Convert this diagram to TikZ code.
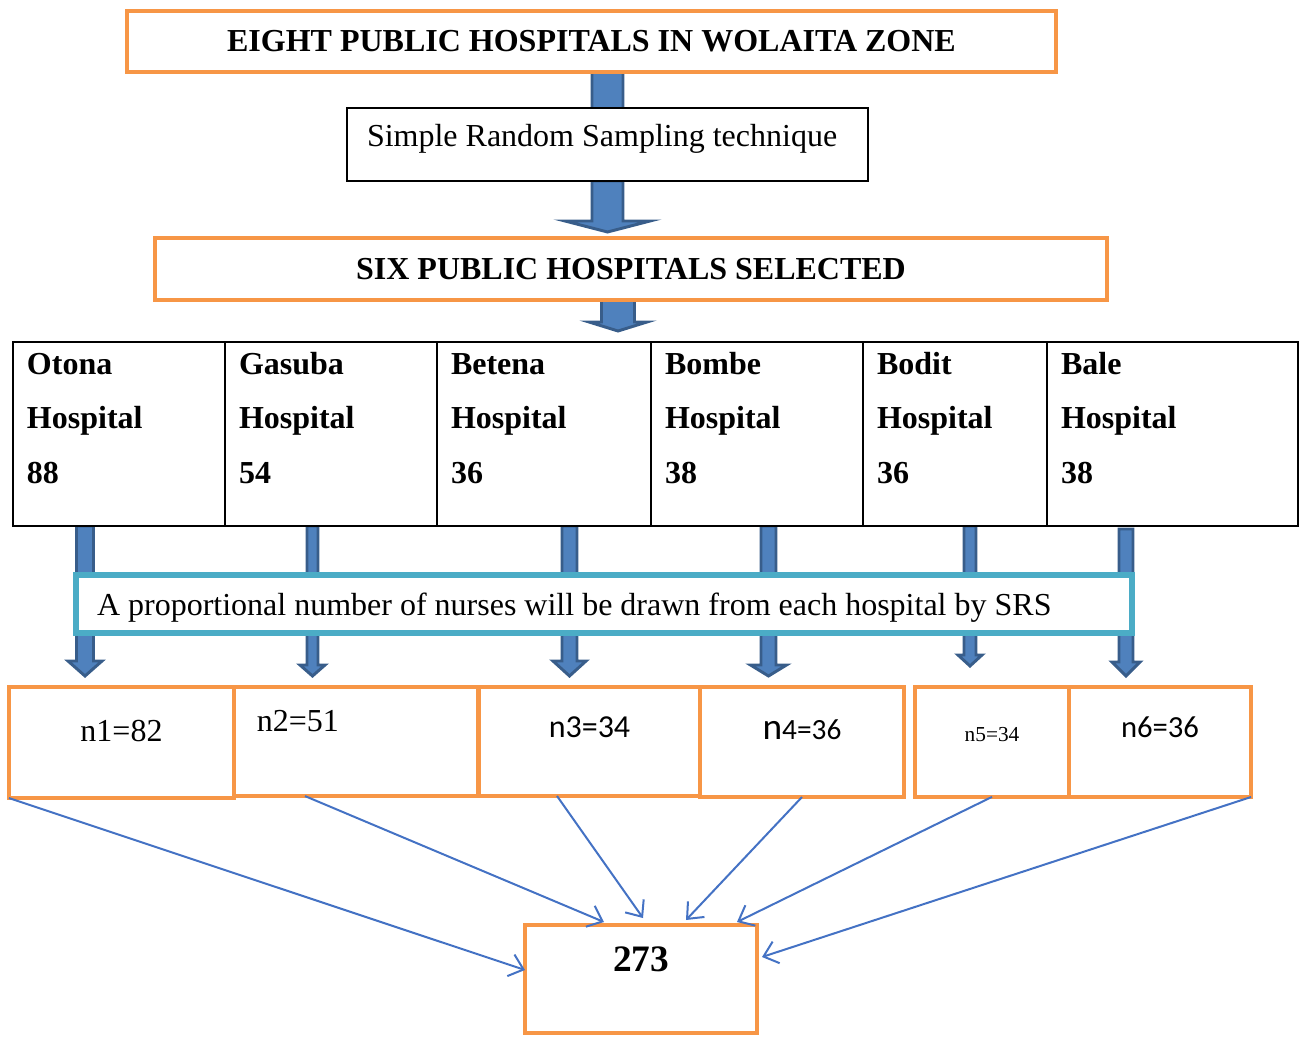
\documentclass[tikz,border=0pt]{standalone}
\usepackage{fontspec}
\setmainfont{Liberation Serif}
\newfontfamily\carlito{Carlito}
\usetikzlibrary{calc,arrows.meta}
\definecolor{box_orange}{RGB}{247, 150, 70}
\definecolor{box_cyan}{RGB}{75, 172, 198}
\definecolor{arr_fill}{RGB}{79, 129, 189}
\definecolor{arr_line}{RGB}{56, 93, 138}
\definecolor{thin_blue}{RGB}{68, 114, 196}
\tikzstyle{ob}=[rectangle,draw=box_orange,fill=white,line width=1.5pt,
  inner sep=0pt,outer sep=0pt,anchor=north]
\tikzstyle{bb}=[rectangle,draw=black,fill=white,line width=0.75pt,
  inner sep=0pt,outer sep=0pt,anchor=north west,align=flush left]
\tikzstyle{cb}=[rectangle,draw=box_cyan,fill=white,line width=2.25pt,
  inner xsep=7.875pt,inner ysep=0pt,outer sep=0pt,anchor=north west,align=flush left]
\tikzstyle{hc}=[rectangle,draw=black,fill=white,line width=0.8pt,
  inner xsep=5.25pt,inner ysep=0pt,outer sep=0pt,anchor=north west,align=flush left,
  text height=12pt,text depth=57pt,font=\bfseries\fontsize{12}{20.6}\selectfont]
\tikzstyle{bl}=[fill=arr_fill,draw=arr_line,line width=1.1pt]
\tikzstyle{ta}=[draw=thin_blue,line width=0.75pt,
  -{Straight Barb[length=5pt,width=8.5pt]}]
\tikzstyle{none}=[]
% x, y top, y tip, shaft half width, head half width, head length
\newcommand{\blockarrow}[6]{\filldraw[style=bl] (#1-#4,#2) -- (#1+#4,#2)
  -- (#1+#4,#3-#6) -- (#1+#5,#3-#6) -- (#1,#3) -- (#1-#5,#3-#6)
  -- (#1-#4,#3-#6) -- cycle;}

\begin{document}
\fontsize{12}{14.4}\selectfont
\begin{tikzpicture}[x=0.375pt, y=-0.375pt]
    \useasboundingbox (0, 0) rectangle (1301, 1036);
            % block arrows, under the boxes
            \blockarrow{607.5}{72}{125}{15.5}{42.5}{11}
            \blockarrow{607.5}{181}{232}{15.5}{42.5}{11}
            \blockarrow{618}{300}{331}{16.5}{29}{9}
            \blockarrow{85}{526}{676}{8.5}{17}{15}
            \blockarrow{312.5}{526}{676}{5.5}{12.5}{11}
            \blockarrow{569.5}{526}{676}{7.5}{16.5}{15}
            \blockarrow{768.5}{526}{676}{7.5}{18}{11}
            \blockarrow{970}{526}{666}{6}{12}{11}
            \blockarrow{1126}{529}{676}{7}{14}{14}
            % boxes
            \node [style=ob, minimum width=348.4pt, text height=15pt, text depth=7.9pt,
                font=\bfseries] (0) at (591.5, 11) {EIGHT PUBLIC HOSPITALS IN WOLAITA ZONE};
            \node [style=bb, inner xsep=7.5pt, text width=180.4pt, text height=14.6pt,
                text depth=12.75pt] (1) at (347, 108) {Simple Random Sampling technique};
            \node [style=ob, minimum width=357pt, text height=15.4pt, text depth=7.9pt,
                font=\bfseries] (2) at (631, 238) {SIX PUBLIC HOSPITALS SELECTED};
            \node [style=hc, text width=69pt] (3) at (13, 342) {Otona\\Hospital\\88};
            \node [style=hc, text width=69pt] (4) at (225, 342) {Gasuba\\Hospital\\54};
            \node [style=hc, text width=69.75pt] (5) at (437, 342) {Betena\\Hospital\\36};
            \node [style=hc, text width=69pt] (6) at (651, 342) {Bombe\\Hospital\\38};
            \node [style=hc, text width=58.5pt] (7) at (863, 342) {Bodit\\Hospital\\36};
            \node [style=hc, text width=83.6pt] (8) at (1047, 342) {Bale\\Hospital\\38};
            \node [style=cb, text width=380.25pt, text height=15pt, text depth=6.75pt]
                (9) at (76, 575) {A proportional number of nurses will be drawn from each hospital by SRS};
            \node [style=ob, minimum width=84.4pt, text height=20.25pt, text depth=21.4pt]
                (10) at (121.5, 687) {n1=82};
            \node [style=ob, anchor=north west, inner xsep=8.6pt, text width=74.3pt,
                align=flush left, text height=16.5pt, text depth=24.4pt] (11) at (234, 687) {n2=51};
            \node [style=ob, minimum width=82.9pt, text height=19.1pt, text depth=21.75pt,
                font=\carlito] (12) at (589.5, 687) {n3=34};
            \node [style=ob, minimum width=76.5pt, text height=19.5pt, text depth=21.75pt,
                font=\carlito] (13) at (802, 687) {{\fontsize{14}{16}\selectfont n}{\fontsize{11}{13}\selectfont 4=36}};
            \node [style=ob, minimum width=57.75pt, text height=20.6pt, text depth=20.6pt,
                font=\fontsize{8}{9.6}\selectfont] (14) at (992, 687) {n5=34};
            \node [style=ob, minimum width=68.25pt, text height=18.75pt, text depth=22.5pt,
                font=\carlito\fontsize{11.5}{13.8}\selectfont] (15) at (1160, 687) {n6=36};
            \node [style=ob, minimum width=87pt, text height=17.6pt, text depth=22.9pt,
                font=\bfseries\fontsize{14}{16.8}\selectfont] (16) at (641, 925) {273};
            % thin arrows to the total
            \draw [style=ta] (10.south west) to ($(16.north west)+(0, 45)$);
            \draw [style=ta] ($(11.south west)+(71, 0)$) to ($(16.north west)+(79, -3)$);
            \draw [style=ta] ($(12.south west)+(78, 0)$) to ($(16.north)+(2, -7)$);
            \draw [style=ta] (13.south) to ($(16.north)+(45, -5)$);
            \draw [style=ta] (14.south) to ($(16.north)+(96, -3)$);
            \draw [style=ta] (15.south east) to ($(16.north east)+(5, 32)$);
    \end{tikzpicture}
\end{document}
